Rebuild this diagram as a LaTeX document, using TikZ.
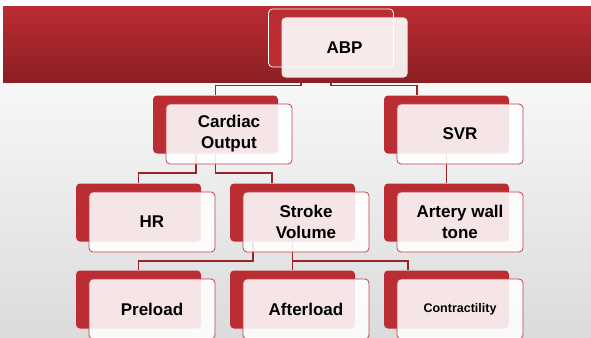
\documentclass[tikz,border=0pt]{standalone}
\usepackage{fontspec}
\setmainfont{Liberation Sans}
\usetikzlibrary{calc}
\definecolor{BandTop}{RGB}{186,44,51}
\definecolor{BandBot}{RGB}{139,31,35}
\definecolor{BoxRed}{RGB}{185,45,51}
\definecolor{LineRed}{RGB}{155,36,41}
\definecolor{EdgeRed}{RGB}{197,66,72}

\begin{document}
\begin{tikzpicture}[
    x=1pt, y=-1pt,
    backbox/.style={fill=BoxRed, rounded corners=4pt, minimum width=125pt, minimum height=58pt, inner sep=0},
    frontbox/.style={draw=EdgeRed, line width=0.8pt, rounded corners=4pt, fill=white, fill opacity=0.88,
        text opacity=1, minimum width=126pt, minimum height=60pt, inner sep=0, align=center,
        font=\fontsize{17}{21}\selectfont\bfseries},
    conn/.style={draw=LineRed, line width=1.8pt},
]
\useasboundingbox (0,0) rectangle (591,337);

% ===== fondo =====
\fill[white] (0,0) rectangle (591,337);
\shade[top color=black!3, bottom color=black!14] (0,82) rectangle (591,337);
\shade[top color=BandTop, bottom color=BandBot] (3,7) rectangle (591,82);

% ===== cajas de fondo =====
\node[backbox, draw=white, line width=0.8pt] (abpB) at ($(344.5,47.5)+(-13.5,-9.5)$) {};
\foreach \n/\x/\y in {card/229/134, svr/460/134, hr/152/222, stroke/306/222,
    art/460/222, pre/152/309, aft/306/309, con/460/309}
    \node[backbox] (\n B) at ($(\x,\y)+(-13.5,-9.5)$) {};

% ===== conectores =====
\draw[conn] ([xshift=-30pt]abpB.south) -- ++(0,18) -| (cardB.north);
\draw[conn] (abpB.south) -- ++(0,18) -| ([xshift=-29.5pt]svrB.north);
\draw[conn] ([xshift=-19.5pt]cardB.south) -- ++(0,19.5) -| (hrB.north);
\draw[conn] (cardB.south) -- ++(0,19.5) -| ([xshift=-20.5pt]strokeB.north);
\draw[conn] (svrB.south) -- (artB.north);
\draw[conn] ([xshift=-39.5pt]strokeB.south) -- ++(0,19.5) -| (preB.north);
\draw[conn] (strokeB.south) -- (aftB.north);
\draw[conn] (strokeB.south) -- ++(0,19.5) -| ([xshift=-38.5pt]conB.north);

% ===== cajas de texto =====
\node[frontbox, draw=none, fill opacity=0.9] (abp) at (344.5,47.5) {ABP};
\foreach \n/\x/\y/\t in {card/229/134/{Cardiac\\Output}, svr/460/134/SVR, hr/152/222/HR,
    stroke/306/222/{Stroke\\Volume}, art/460/222/{Artery wall\\tone}, pre/152/309/Preload,
    aft/306/309/Afterload, con/460/309/{\fontsize{12.5}{15}\selectfont Contractility}}
    \node[frontbox] (\n) at (\x,\y) {\t};

\end{tikzpicture}
\end{document}
